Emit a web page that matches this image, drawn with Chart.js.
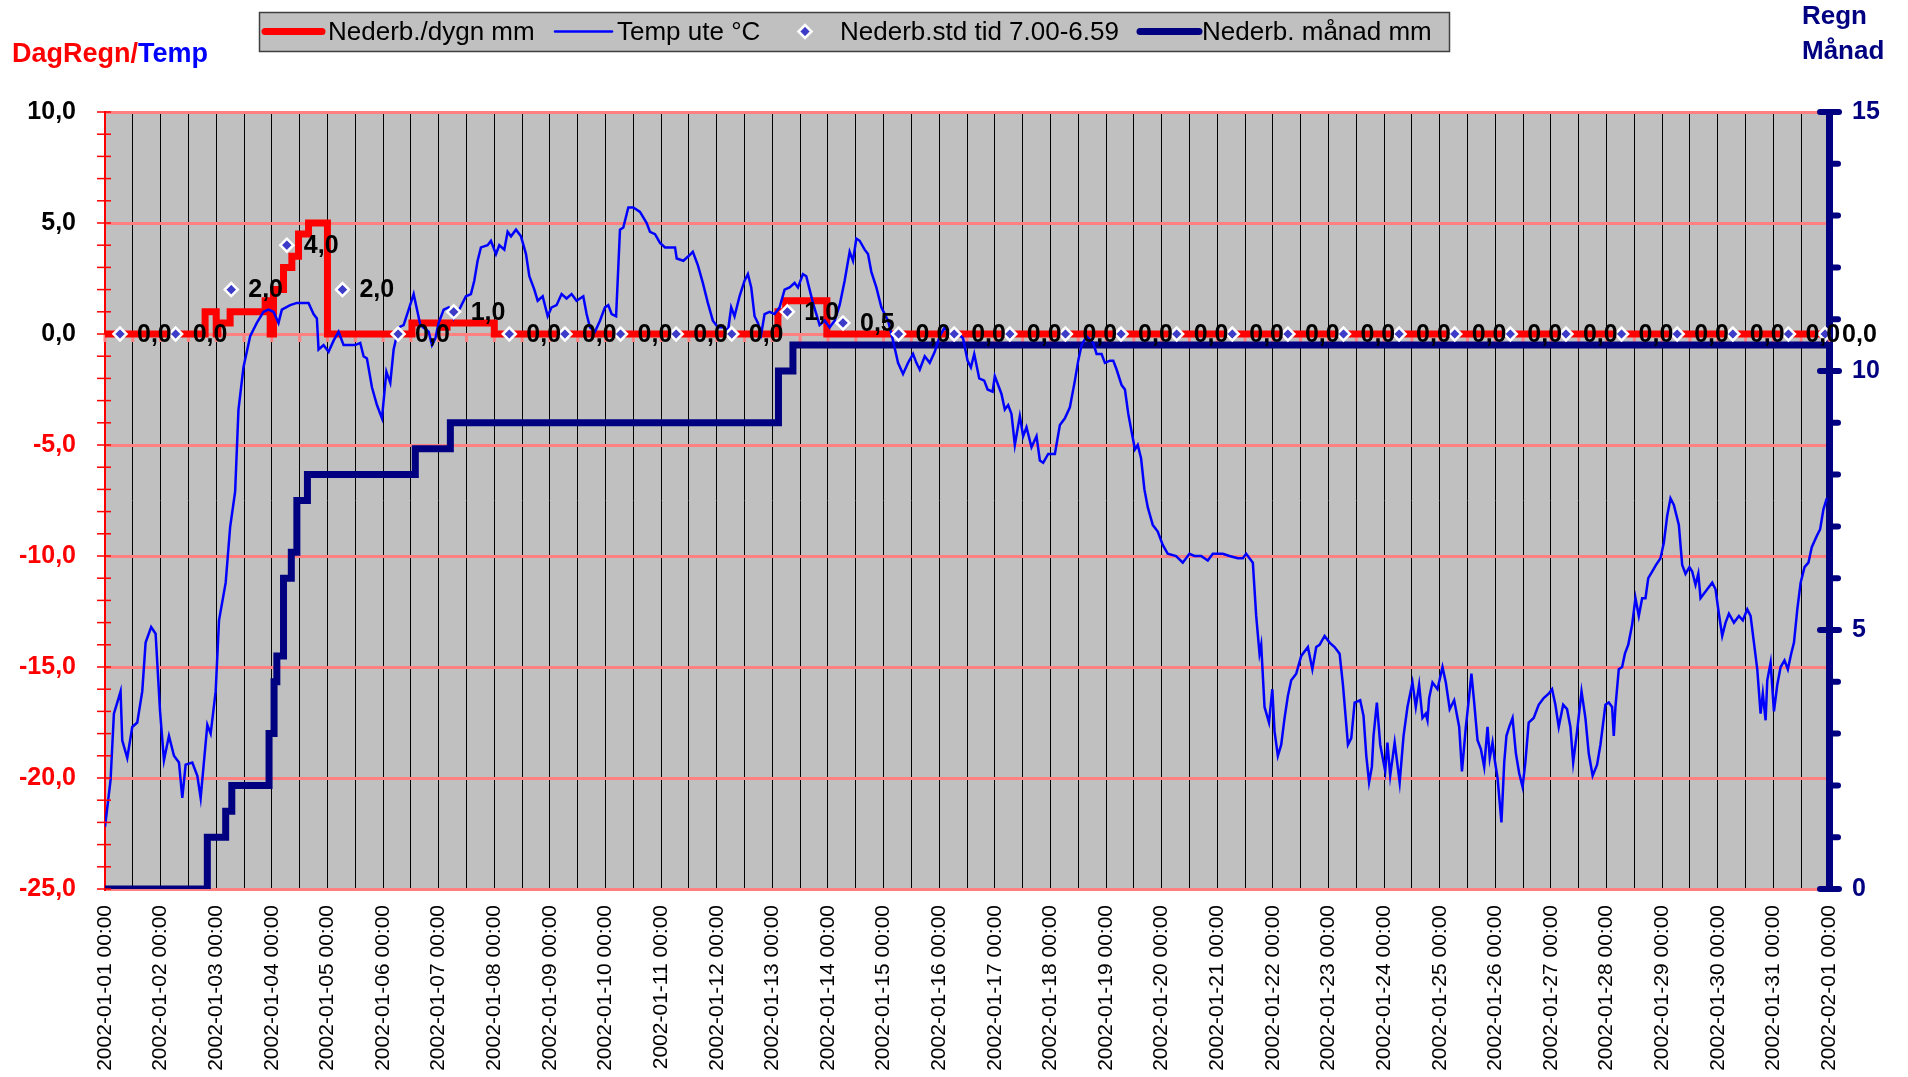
<!DOCTYPE html>
<html>
<head>
<meta charset="utf-8">
<title>Nederbörd och temperatur januari 2002</title>
<script src="https://cdn.jsdelivr.net/npm/chart.js@4.4.1/dist/chart.umd.min.js"></script>
<style>
    html, body { margin: 0; padding: 0; background: #fff; }
</style>
</head>
<body>
<canvas id="myChart" width="1908" height="1077"></canvas>
<script>
// x = dygn sedan 2002-01-01 00:00
const dayLabels = [
    "2002-01-01 00:00", "2002-01-02 00:00", "2002-01-03 00:00", "2002-01-04 00:00",
    "2002-01-05 00:00", "2002-01-06 00:00", "2002-01-07 00:00", "2002-01-08 00:00",
    "2002-01-09 00:00", "2002-01-10 00:00", "2002-01-11 00:00", "2002-01-12 00:00",
    "2002-01-13 00:00", "2002-01-14 00:00", "2002-01-15 00:00", "2002-01-16 00:00",
    "2002-01-17 00:00", "2002-01-18 00:00", "2002-01-19 00:00", "2002-01-20 00:00",
    "2002-01-21 00:00", "2002-01-22 00:00", "2002-01-23 00:00", "2002-01-24 00:00",
    "2002-01-25 00:00", "2002-01-26 00:00", "2002-01-27 00:00", "2002-01-28 00:00",
    "2002-01-29 00:00", "2002-01-30 00:00", "2002-01-31 00:00", "2002-02-01 00:00"
];

// Temp ute °C
const tempDays = [
    0.00, 0.10, 0.16, 0.22, 0.28, 0.31, 0.40, 0.49, 0.58, 0.67, 0.73, 0.83, 0.91, 0.99,
    1.06, 1.15, 1.24, 1.33, 1.39, 1.45, 1.57, 1.66, 1.72, 1.84, 1.90, 1.99,
    2.05, 2.17, 2.25, 2.34, 2.40, 2.49, 2.61, 2.73, 2.85, 2.94,
    3.03, 3.12, 3.18, 3.33, 3.45, 3.66, 3.75, 3.81, 3.84, 3.93,
    4.02, 4.11, 4.20, 4.29, 4.50, 4.59, 4.65, 4.71, 4.80, 4.89, 4.98,
    5.06, 5.13, 5.19, 5.28, 5.37, 5.46, 5.55, 5.61, 5.67, 5.82, 5.88, 5.94,
    6.00, 6.09, 6.18, 6.27, 6.39, 6.49, 6.58, 6.64, 6.70, 6.76, 6.88, 6.94,
    7.03, 7.09, 7.18, 7.24, 7.30, 7.39, 7.48, 7.57, 7.63, 7.72, 7.78, 7.87, 7.96,
    8.03, 8.12, 8.21, 8.30, 8.39, 8.48, 8.60, 8.66, 8.72, 8.81, 8.90, 8.99,
    9.05, 9.11, 9.19, 9.26, 9.32, 9.41, 9.50, 9.62, 9.74, 9.80, 9.89, 9.98,
    10.07, 10.16, 10.25, 10.28, 10.40, 10.49, 10.57, 10.66, 10.75, 10.84, 10.93,
    11.02, 11.14, 11.20, 11.26, 11.32, 11.41, 11.50, 11.56, 11.62, 11.68, 11.74, 11.80, 11.86, 11.95,
    12.04, 12.13, 12.22, 12.31, 12.40, 12.46, 12.55, 12.61, 12.67, 12.73, 12.85, 12.94,
    13.03, 13.12, 13.21, 13.30, 13.39, 13.45, 13.51, 13.57, 13.66, 13.72, 13.78, 13.87, 13.96,
    14.08, 14.17, 14.26, 14.35, 14.44, 14.53, 14.59, 14.65, 14.74, 14.83, 14.92,
    15.01, 15.10, 15.19, 15.31, 15.43, 15.51, 15.57, 15.63, 15.72, 15.81, 15.87, 15.96,
    16.00, 16.06, 16.12, 16.18, 16.24, 16.30, 16.36, 16.45, 16.51, 16.57, 16.66, 16.75, 16.81, 16.87, 16.96,
    17.08, 17.17, 17.26, 17.35, 17.44, 17.50, 17.56, 17.65, 17.77, 17.83, 17.92, 17.98,
    18.07, 18.13, 18.19, 18.28, 18.34, 18.40, 18.46, 18.52, 18.57, 18.63, 18.69, 18.75, 18.84, 18.93,
    19.02, 19.11, 19.26, 19.38, 19.50, 19.59, 19.71, 19.83, 19.92,
    20.01, 20.10, 20.22, 20.37, 20.46, 20.52, 20.64, 20.70, 20.76, 20.79, 20.85, 20.93, 20.99,
    21.03, 21.09, 21.15, 21.21, 21.27, 21.33, 21.42, 21.51, 21.63, 21.71, 21.78, 21.84, 21.93,
    22.02, 22.11, 22.20, 22.26, 22.35, 22.41, 22.47, 22.57, 22.63, 22.68, 22.73, 22.78, 22.81, 22.87, 22.93,
    23.02, 23.06, 23.11, 23.19, 23.28, 23.35, 23.42, 23.51, 23.57, 23.63, 23.69, 23.75, 23.78, 23.81, 23.87, 23.96,
    24.05, 24.11, 24.18, 24.26, 24.35, 24.40, 24.47, 24.53, 24.57, 24.62, 24.68, 24.74, 24.80, 24.86, 24.90, 24.95, 24.99,
    25.04, 25.11, 25.16, 25.20, 25.25, 25.31, 25.37, 25.43, 25.49, 25.54, 25.60, 25.69, 25.78, 25.87, 25.96,
    26.02, 26.08, 26.14, 26.22, 26.29, 26.35, 26.40, 26.47, 26.55, 26.62, 26.68, 26.75, 26.83, 26.89, 26.98,
    27.04, 27.10, 27.13, 27.16, 27.22, 27.28, 27.33, 27.39, 27.46, 27.52, 27.58, 27.64, 27.70, 27.75, 27.82, 27.89, 27.97,
    28.03, 28.09, 28.15, 28.21, 28.30, 28.36, 28.42, 28.49, 28.54, 28.60, 28.65, 28.69, 28.75, 28.81, 28.90, 28.96,
    29.02, 29.08, 29.14, 29.20, 29.29, 29.38, 29.45, 29.53, 29.59, 29.65, 29.71, 29.77, 29.81, 29.86, 29.89, 29.95,
    30.01, 30.07, 30.13, 30.20, 30.26, 30.32, 30.37, 30.43, 30.49, 30.56, 30.63, 30.69, 30.78, 30.84, 30.90, 30.96
];
const tempVals = [
    -22.2, -20.1, -17.1, -16.6, -16.1, -18.3, -19.1, -17.7, -17.5, -16.1, -13.9, -13.2, -13.5, -17.0,
    -19.2, -18.1, -19.0, -19.3, -20.9, -19.4, -19.3, -19.9, -20.9, -17.6, -18.0, -16.1,
    -12.9, -11.2, -8.7, -7.1, -3.4, -1.5, -0.1, 0.5, 1.0, 1.1,
    1.0, 0.5, 1.1, 1.3, 1.4, 1.4, 0.9, 0.7, -0.7, -0.5,
    -0.8, -0.3, 0.1, -0.5, -0.5, -0.4, -1.0, -1.1, -2.4, -3.2, -3.8,
    -1.7, -2.2, -0.7, 0.3, 0.4, 1.1, 1.8, 1.1, 0.4, 0.1, -0.5, -0.2,
    0.5, 1.1, 1.2, 0.7, 1.2, 1.7, 1.8, 2.4, 3.3, 3.9, 4.0, 4.2,
    3.6, 4.0, 3.8, 4.6, 4.4, 4.7, 4.4, 3.6, 2.6, 2.0, 1.5, 1.7, 0.8,
    1.2, 1.3, 1.8, 1.6, 1.8, 1.5, 1.7, 0.9, 0.3, 0.1, 0.6, 1.2,
    1.3, 0.9, 0.8, 4.7, 4.8, 5.7, 5.7, 5.5, 5.0, 4.6, 4.5, 4.1,
    3.9, 3.9, 3.9, 3.4, 3.3, 3.5, 3.7, 3.1, 2.3, 1.4, 0.6,
    0.3, 0.3, 0.1, 1.2, 0.8, 1.7, 2.4, 2.7, 2.1, 0.8, 0.5, 0.0, 0.9, 1.0,
    0.9, 1.2, 2.0, 2.1, 2.3, 2.1, 2.7, 2.6, 2.0, 1.4, 0.4, 0.6,
    0.3, 0.6, 1.3, 2.4, 3.7, 3.3, 4.3, 4.2, 3.8, 3.6, 2.8, 2.1, 1.2,
    0.6, -0.3, -1.3, -1.8, -1.3, -0.9, -1.3, -1.6, -1.0, -1.3, -0.8,
    -0.1, 0.3, 0.0, 0.1, -0.2, -1.2, -1.5, -0.9, -2.0, -2.1, -2.5, -2.6,
    -1.9, -2.3, -2.7, -3.4, -3.2, -3.6, -5.0, -3.7, -4.6, -4.2, -5.1, -4.6, -5.7, -5.8, -5.4,
    -5.4, -4.1, -3.8, -3.3, -2.1, -1.2, -0.5, -0.1, -0.4, -0.9, -0.9, -1.3,
    -1.2, -1.2, -1.6, -2.3, -2.5, -3.6, -4.4, -5.2, -5.0, -5.6, -7.0, -7.8, -8.6, -8.9,
    -9.5, -9.9, -10.0, -10.3, -9.9, -10.0, -10.0, -10.2, -9.9,
    -9.9, -9.9, -10.0, -10.1, -10.1, -9.9, -10.3, -12.7, -14.4, -14.0, -16.8, -17.5, -16.0,
    -17.9, -19.0, -18.5, -17.3, -16.3, -15.6, -15.3, -14.5, -14.1, -15.1, -14.1, -14.0, -13.6,
    -13.9, -14.1, -14.4, -15.8, -18.5, -18.2, -16.6, -16.5, -17.2, -19.0, -20.2, -19.5, -18.1, -16.6, -18.5,
    -19.7, -18.4, -19.9, -18.4, -20.2, -18.1, -16.8, -15.7, -16.8, -15.8, -17.3, -17.1, -17.4, -16.4, -15.7, -16.0,
    -15.0, -15.7, -16.9, -16.5, -17.7, -19.7, -17.7, -16.3, -15.3, -16.6, -18.3, -18.7, -19.5, -17.7, -19.1, -18.4, -19.2,
    -20.0, -22.0, -19.3, -18.1, -17.7, -17.3, -18.9, -19.8, -20.4, -19.3, -17.5, -17.3, -16.7, -16.4, -16.2,
    -16.0, -16.7, -17.7, -16.7, -16.9, -17.7, -19.3, -17.9, -16.1, -17.3, -18.9, -19.9, -19.4, -18.5, -16.7,
    -16.6, -16.8, -18.1, -16.8, -15.1, -15.0, -14.4, -14.0, -13.1, -11.9, -12.7, -11.9, -11.9, -11.0, -10.7, -10.4, -10.1,
    -9.4, -8.2, -7.4, -7.7, -8.6, -10.4, -10.8, -10.5, -10.7, -11.3, -10.8, -11.9, -11.7, -11.5, -11.2, -11.5,
    -12.6, -13.6, -13.0, -12.6, -13.0, -12.7, -12.9, -12.4, -12.7, -13.9, -15.1, -17.1, -16.2, -17.4, -15.6, -14.8,
    -17.0, -15.8, -15.0, -14.7, -15.1, -14.4, -13.9, -12.4, -11.2, -10.5, -10.3, -9.6, -9.1, -8.8, -7.9, -7.4
];

// Nederb./dygn mm (trappsteg: nytt värde från angiven tidpunkt)
const dagRegnDays = [0, 1.80, 2.00, 2.03, 2.25, 2.88, 2.97, 3.03, 3.21, 3.36, 3.48, 3.66, 4.00,
    5.52, 6.03, 6.15, 7.00, 12.10, 12.24, 12.98, 31];
const dagRegnVals = [0, 1.0, 0, 0.5, 1.0, 1.5, 0, 2.0, 3.0, 3.5, 4.5, 5.0, 0,
    0.5, 0.3, 0.5, 0, 1.0, 1.5, 0, 0];

// Nederb.std tid 7.00-6.59
const stdDays = [0.27, 1.27, 2.27, 3.27, 4.27, 5.27, 6.27, 7.27, 8.27, 9.27, 10.27,
    11.27, 12.27, 13.27, 14.27, 15.27, 16.27, 17.27, 18.27, 19.27, 20.27, 21.27,
    22.27, 23.27, 24.27, 25.27, 26.27, 27.27, 28.27, 29.27, 30.27, 30.93];
const stdVals = [0, 0, 2.0, 4.0, 2.0, 0, 1.0, 0, 0, 0, 0,
    0, 1.0, 0.5, 0, 0, 0, 0, 0, 0, 0, 0,
    0, 0, 0, 0, 0, 0, 0, 0, 0, 0];

// Nederb. månad mm (höger axel)
const manadDays = [0, 1.84, 2.17, 2.28, 2.95, 3.04, 3.09, 3.21, 3.35, 3.45, 3.64, 5.58, 6.21, 12.11, 12.37, 31];
const manadVals = [0, 1.0, 1.5, 2.0, 3.0, 4.0, 4.5, 6.0, 6.5, 7.5, 8.0, 8.5, 9.0, 10.0, 10.5, 10.5];

const tempTicks = [-25, -20, -15, -10, -5, 0, 5, 10];
const manadTicks = [0, 5, 10, 15];

const RED = "#FF0000";
const BLUE = "#0000FF";
const NAVY = "#000080";
const PINK = "#FF8080";
const FONT = "'Liberation Sans', Arial, sans-serif";

function xy(xs, ys) {
    return xs.map((x, i) => ({ x: x, y: ys[i] }));
}
function komma(v) {
    return v.toFixed(1).replace(".", ",");
}

// grå plottyta + små rosa streck under nollinjen
const bakgrund = {
    id: "bakgrund",
    beforeDraw(chart) {
        const { ctx, chartArea: a } = chart;
        ctx.save();
        ctx.fillStyle = "#C0C0C0";
        ctx.fillRect(a.left, a.top, a.right - a.left, a.bottom - a.top);
        ctx.restore();
    },
    beforeDatasetsDraw(chart) {
        const ctx = chart.ctx;
        const xs = chart.scales.x;
        const y0 = chart.scales.y.getPixelForValue(0);
        ctx.save();
        ctx.strokeStyle = PINK;
        ctx.lineWidth = 3;
        xs.ticks.forEach(t => {
            const px = xs.getPixelForValue(t.value);
            ctx.beginPath();
            ctx.moveTo(px, y0);
            ctx.lineTo(px, y0 + 8);
            ctx.stroke();
        });
        ctx.restore();
    }
};

// värdeetiketter vid punkterna
const etiketter = {
    id: "etiketter",
    afterDatasetsDraw(chart) {
        const ctx = chart.ctx;
        const meta = chart.getDatasetMeta(2);
        ctx.save();
        ctx.font = "bold 25px " + FONT;
        ctx.fillStyle = "#000";
        ctx.textAlign = "left";
        ctx.textBaseline = "middle";
        meta.data.forEach((pt, i) => {
            ctx.fillText(komma(stdVals[i]), pt.x + 17, pt.y + 1);
        });
        ctx.restore();
    }
};

function diamant(ctx, x, y, r) {
    ctx.beginPath();
    ctx.moveTo(x, y - r);
    ctx.lineTo(x + r, y);
    ctx.lineTo(x, y + r);
    ctx.lineTo(x - r, y);
    ctx.closePath();
    ctx.fill();
    ctx.stroke();
}

// förklaring och axelrubriker
const forklaring = [
    { ds: 0, x0: 265, x1: 322, tx: 328 },
    { ds: 1, x0: 555, x1: 612, tx: 617 },
    { ds: 2, x0: 805, x1: 805, tx: 840 },
    { ds: 3, x0: 1140, x1: 1199, tx: 1202 },
];

const rubriker = {
    id: "rubriker",
    afterDraw(chart) {
        const ctx = chart.ctx;
        const sets = chart.data.datasets;
        ctx.save();

        // korsande skalstreck på y-axlarna
        const yl = chart.scales.y;
        ctx.strokeStyle = RED;
        ctx.lineWidth = 1.5;
        yl.ticks.forEach(t => {
            const py = yl.getPixelForValue(t.value);
            ctx.beginPath();
            ctx.moveTo(yl.right - 8, py);
            ctx.lineTo(yl.right + 6, py);
            ctx.stroke();
        });
        const yr = chart.scales.y2;
        ctx.strokeStyle = NAVY;
        ctx.lineWidth = 6;
        ctx.lineCap = "round";
        yr.ticks.forEach(t => {
            const py = yr.getPixelForValue(t.value);
            const stor = manadTicks.includes(t.value);
            ctx.beginPath();
            ctx.moveTo(yr.left - (stor ? 9 : 0), py);
            ctx.lineTo(yr.left + (stor ? 10 : 9), py);
            ctx.stroke();
        });

        ctx.fillStyle = "#C0C0C0";
        ctx.fillRect(259, 12, 1190, 39);
        ctx.strokeStyle = "#404040";
        ctx.lineWidth = 1.5;
        ctx.lineCap = "butt";
        ctx.strokeRect(259.5, 12.5, 1190, 39);

        const ly = 31.5;
        ctx.font = "26px " + FONT;
        ctx.textBaseline = "middle";
        ctx.textAlign = "left";
        forklaring.forEach(f => {
            const ds = sets[f.ds];
            if (ds.showLine === false) {
                ctx.fillStyle = ds.pointBackgroundColor;
                ctx.strokeStyle = ds.pointBorderColor;
                ctx.lineWidth = ds.pointBorderWidth;
                diamant(ctx, f.x0, ly, ds.pointRadius);
            } else {
                ctx.strokeStyle = ds.borderColor;
                ctx.lineWidth = ds.borderWidth;
                ctx.lineCap = "round";
                ctx.beginPath();
                ctx.moveTo(f.x0, ly);
                ctx.lineTo(f.x1, ly);
                ctx.stroke();
            }
            ctx.fillStyle = "#000";
            ctx.fillText(ds.label, f.tx, ly + 1);
        });

        ctx.font = "bold 27px " + FONT;
        ctx.fillStyle = RED;
        ctx.fillText("DagRegn/", 12, 55);
        const w = ctx.measureText("DagRegn/").width;
        ctx.fillStyle = BLUE;
        ctx.fillText("Temp", 12 + w, 55);

        ctx.font = "bold 26px " + FONT;
        ctx.fillStyle = NAVY;
        ctx.fillText("Regn", 1802, 17);
        ctx.fillText("Månad", 1802, 52);
        ctx.restore();
    }
};

Chart.defaults.font.family = FONT;
Chart.defaults.color = "#000";

let ctx = document.getElementById("myChart").getContext("2d");

let myChart = new Chart(ctx, {
    type: "line",
    data: {
        datasets: [
            {
                label: "Nederb./dygn mm",
                data: xy(dagRegnDays, dagRegnVals),
                yAxisID: "y",
                borderColor: RED,
                borderWidth: 7,
                stepped: true,
                pointRadius: 0,
                order: 3,
            },
            {
                label: "Temp ute °C",
                data: xy(tempDays, tempVals),
                yAxisID: "y",
                borderColor: BLUE,
                borderWidth: 2.5,
                pointRadius: 0,
                order: 2,
            },
            {
                label: "Nederb.std tid 7.00-6.59",
                data: xy(stdDays, stdVals),
                yAxisID: "y",
                showLine: false,
                pointStyle: "rectRot",
                pointRadius: 6.5,
                pointBackgroundColor: "#3C3CC8",
                pointBorderColor: "#FFFFFF",
                pointBorderWidth: 2.5,
                order: 1,
            },
            {
                label: "Nederb. månad mm",
                data: xy(manadDays, manadVals),
                yAxisID: "y2",
                borderColor: NAVY,
                borderWidth: 7,
                stepped: true,
                pointRadius: 0,
                order: 4,
            },
        ],
    },
    options: {
        responsive: false,
        animation: false,
        devicePixelRatio: 1,
        events: [],
        layout: { padding: { top: 112, left: 0, right: 0, bottom: 0 } },
        plugins: {
            legend: { display: false },
            tooltip: { enabled: false },
        },
        scales: {
            x: {
                type: "linear",
                min: 0,
                max: 31,
                afterFit: (s) => { s.height = 188; },
                border: { display: false },
                grid: { color: "#000", lineWidth: 1, drawTicks: false },
                ticks: {
                    stepSize: 0.5,
                    autoSkip: false,
                    minRotation: 90,
                    maxRotation: 90,
                    padding: 16,
                    font: { size: 21 },
                    color: "#000",
                    callback: (v) => Number.isInteger(v) ? dayLabels[v] : "",
                },
            },
            y: {
                position: "left",
                min: -25,
                max: 10,
                afterFit: (s) => { s.width = 105; },
                border: { color: RED, width: 2 },
                grid: {
                    color: (c) => tempTicks.includes(c.tick.value) ? PINK : "rgba(0,0,0,0)",
                    lineWidth: 3,
                    drawTicks: false,
                },
                ticks: {
                    stepSize: 1,
                    autoSkip: false,
                    padding: 29,
                    font: { size: 25, weight: "bold" },
                    color: (c) => c.tick.value < 0 ? RED : "#000",
                    callback: (v) => tempTicks.includes(v) ? komma(v) : "",
                },
            },
            y2: {
                position: "right",
                min: 0,
                max: 15,
                afterFit: (s) => { s.width = 79; },
                border: { color: NAVY, width: 7 },
                grid: {
                    drawOnChartArea: false,
                    drawTicks: false,
                },
                ticks: {
                    stepSize: 1,
                    autoSkip: false,
                    padding: 23,
                    font: { size: 25, weight: "bold" },
                    color: NAVY,
                    callback: (v) => manadTicks.includes(v) ? String(v) : "",
                },
            },
        },
    },
    plugins: [bakgrund, etiketter, rubriker],
});
</script>
</body>
</html>
